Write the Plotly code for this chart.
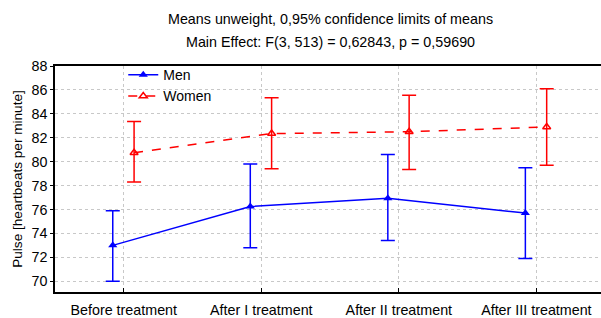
import plotly.graph_objects as go

categories = ["Before treatment", "After I treatment", "After II treatment", "After III treatment"]
men_mean = [73.0, 76.25, 76.95, 75.7]
men_low = [70.0, 72.8, 73.4, 71.9]
men_high = [75.9, 79.8, 80.6, 79.5]
women_mean = [80.75, 82.35, 82.5, 82.9]
women_low = [78.3, 79.4, 79.35, 79.7]
women_high = [83.35, 85.35, 85.55, 86.1]
y_ticks = [70, 72, 74, 76, 78, 80, 82, 84, 86, 88]
title_lines = ["Means unweight, 0,95% confidence limits of means",
               "Main Effect: F(3, 513) = 0,62843, p = 0,59690"]

xi = list(range(len(categories)))
men_x = [i - 0.08 for i in xi]
women_x = [i + 0.075 for i in xi]

fig = go.Figure()
fig.add_trace(go.Scatter(
    x=men_x, y=men_mean, name="Men", mode="lines+markers",
    line=dict(color="#0000ff", width=1.5),
    marker=dict(symbol="triangle-up", size=8, color="#0000ff"),
    error_y=dict(type="data", symmetric=False,
                 array=[h - m for h, m in zip(men_high, men_mean)],
                 arrayminus=[m - l for m, l in zip(men_mean, men_low)],
                 color="#0000ff", thickness=1.5, width=7),
))
fig.add_trace(go.Scatter(
    x=women_x, y=women_mean, name="Women", mode="lines+markers",
    line=dict(color="#ff0000", width=1.5, dash="dash"),
    marker=dict(symbol="triangle-up-open", size=7, color="#ff0000", line=dict(width=1.5)),
    error_y=dict(type="data", symmetric=False,
                 array=[h - m for h, m in zip(women_high, women_mean)],
                 arrayminus=[m - l for m, l in zip(women_mean, women_low)],
                 color="#ff0000", thickness=1.5, width=7),
))

for txt, yy in zip(title_lines, [1.210, 1.105]):
    fig.add_annotation(text=txt, xref="paper", yref="paper", x=0.504, y=yy,
                       xanchor="center", yanchor="middle", showarrow=False,
                       font=dict(size=14.3))

fig.update_layout(
    width=601, height=318,
    margin=dict(l=55, r=0, t=66, b=23),
    paper_bgcolor="white", plot_bgcolor="white",
    font=dict(family="Liberation Sans, Arial, sans-serif", size=14.3, color="black"),
    showlegend=True,
    legend=dict(x=0.125, y=1.03, xanchor="left", yanchor="top",
                bgcolor="rgba(0,0,0,0)", font=dict(size=14),
                tracegroupgap=0, itemwidth=30),
)
fig.update_xaxes(
    tickvals=xi, ticktext=categories, range=[-0.5, 3.47],
    showgrid=True, gridcolor="#c8c8c8", griddash="dot", gridwidth=1,
    showline=True, linecolor="black", linewidth=1.5, mirror=True,
    ticks="inside", ticklen=4, tickcolor="black",
    ticklabelstandoff=4, zeroline=False,
)
fig.update_yaxes(
    tickvals=y_ticks, range=[69.1, 88],
    title=dict(text="Pulse [heartbeats per minute]", font=dict(size=13.6), standoff=6),
    showgrid=True, gridcolor="#c8c8c8", griddash="dot", gridwidth=1,
    showline=True, linecolor="black", linewidth=1.5,
    ticks="outside", ticklen=3, tickcolor="black", zeroline=False,
)

fig.write_html("out.html", config={"displayModeBar": False},
               post_script="document.body.style.margin='0';document.body.style.overflow='hidden';")
